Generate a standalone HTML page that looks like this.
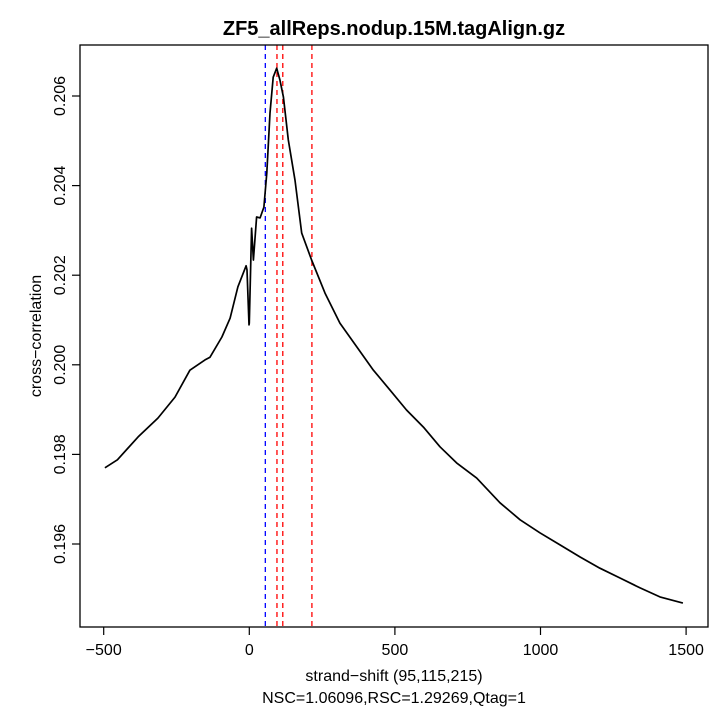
<!DOCTYPE html>
<html><head><meta charset="utf-8"><style>
html,body{margin:0;padding:0;background:#fff;}
svg{display:block;font-family:"Liberation Sans",Arial,sans-serif;}
</style></head><body>
<svg id="chart" width="720" height="720" viewBox="0 0 720 720" xmlns="http://www.w3.org/2000/svg">
<rect width="720" height="720" fill="#fff"/>
<text x="394" y="35" text-anchor="middle" font-size="20" font-weight="bold">ZF5_allReps.nodup.15M.tagAlign.gz</text>
<g id="plot"></g>
<rect x="80" y="45" width="628" height="582" fill="none" stroke="#000" stroke-width="1.3"/>
<text x="394" y="681" text-anchor="middle" font-size="16">strand−shift (95,115,215)</text>
<text x="394" y="703" text-anchor="middle" font-size="16">NSC=1.06096,RSC=1.29269,Qtag=1</text>
<text transform="translate(41,336) rotate(-90)" text-anchor="middle" font-size="16">cross−correlation</text>
</svg>
<script>
const shifts = [-496,-453,-382,-314,-255,-204,-152,-135,-94,-66,-39,-11,-8,-1,0,8,14,25,37,50,60,71,82,94,105,117,134,157,180,214,260,311,369,426,483,540,598,655,712,781,861,930,998,1067,1136,1204,1273,1342,1410,1489];
const corr = [0.19770,0.19788,0.19839,0.19881,0.19928,0.19988,0.20011,0.20017,0.20062,0.20104,0.20174,0.20221,0.20212,0.20089,0.20093,0.20305,0.20234,0.20330,0.20328,0.20352,0.20428,0.20562,0.20642,0.20662,0.20636,0.20598,0.20502,0.20412,0.20294,0.20234,0.20160,0.20093,0.20040,0.19988,0.19944,0.19899,0.19861,0.19817,0.19781,0.19747,0.19692,0.19654,0.19625,0.19598,0.19571,0.19546,0.19524,0.19502,0.19482,0.19468];
const xTicks = [-500,0,500,1000,1500];
const xTickLabels = ["−500","0","500","1000","1500"];
const yTicks = [0.196,0.198,0.200,0.202,0.204,0.206];
const yTickLabels = ["0.196","0.198","0.200","0.202","0.204","0.206"];
const blueLines = [55];
const redLines = [95,115,215];

const NS = "http://www.w3.org/2000/svg";
const g = document.getElementById('plot');
function xs(v){ return 249.3 + v * 145.6 / 500; }
function ys(v){ return 96 + (0.206 - v) / 0.002 * 89.6; }
function mk(tag, attrs){ const e = document.createElementNS(NS, tag); for (const k in attrs) e.setAttribute(k, attrs[k]); g.appendChild(e); return e; }

xTicks.forEach((t,i)=>{
  const l = mk('line',{x1:xs(t),x2:xs(t),y1:627,y2:635,stroke:'#000','stroke-width':1.2});
  
  
  const tx = mk('text',{x:xs(t),y:655,'text-anchor':'middle','font-size':16});
  tx.textContent = xTickLabels[i];
  
  
});
yTicks.forEach((t,i)=>{
  const l = mk('line',{x1:72,x2:80,y1:ys(t),y2:ys(t),stroke:'#000','stroke-width':1.2});
  
  
  const tx = mk('text',{transform:`translate(65,${ys(t)}) rotate(-90)`,'text-anchor':'middle','font-size':16});
  tx.textContent = yTickLabels[i];
  
  
});
blueLines.forEach(v=>{
  const l = mk('line',{x1:xs(v),x2:xs(v),y1:45,y2:627,stroke:'#0000ff','stroke-width':1.3,'stroke-dasharray':'5,4'});
  
  
});
redLines.forEach(v=>{
  const l = mk('line',{x1:xs(v),x2:xs(v),y1:45,y2:627,stroke:'#ff0000','stroke-width':1.3,'stroke-dasharray':'5,4'});
  
  
});
const pts = shifts.map((s,i)=>xs(s).toFixed(1)+','+ys(corr[i]).toFixed(1)).join(' ');
const pl = mk('polyline',{points:pts,fill:'none',stroke:'#000','stroke-width':1.7,'stroke-linejoin':'round'});


</script>
</body></html>
